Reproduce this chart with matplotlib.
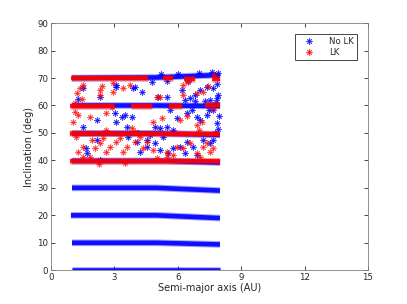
import numpy as np
import matplotlib
matplotlib.use("Agg")
import matplotlib.pyplot as plt
from matplotlib.lines import Line2D

# dense bands, read as (x, inclination) break points; NaN splits segments
nolk_band_x = [
    [1.0, 4.0, 8.0], [1.0, 5.0, 8.0], [0.95, 5.0, 8.0], [1.0, 5.0, 8.0],
    [1.0, 5.5, 8.0], [1.0, 5.0, 8.0], [1.0, 5.0, 8.0], [1.0, 5.0, 7.6, 8.0],
]
nolk_band_y = [
    [0.0, 0.0, 0.0], [10.0, 10.0, 9.4], [20.0, 20.0, 19.0], [30.0, 30.0, 29.0],
    [39.8, 39.8, 39.2], [49.8, 49.8, 49.3], [60.0, 60.0, 59.8], [70.0, 70.2, 71.0, 70.5],
]
lk_band_x = [
    [0.9, 8.0],
    [0.9, 8.0],
    [0.9, 3.0, np.nan, 3.8, 4.8, np.nan, 5.6, 6.2, np.nan, 7.3, 8.0],
    [0.95, 4.6, np.nan, 5.3, 5.8, np.nan, 6.3, 6.8, np.nan, 7.6, 8.0],
]
lk_band_y = [
    [39.8, 39.8],
    [49.8, 49.6],
    [59.8, 59.8, np.nan, 59.8, 59.8, np.nan, 59.8, 59.8, np.nan, 60.0, 60.0],
    [69.9, 69.9, np.nan, 69.9, 69.9, np.nan, 69.8, 69.8, np.nan, 69.8, 69.8],
]

# scattered points between the bands
nolk_x = [1.3, 1.5, 1.66, 1.72, 2.16, 2.16, 1.53, 3.1, 3.03, 3.1, 3.35, 3.5, 3.6,
          3.9, 4.3, 3.82, 3.66, 4.14, 4.06, 4.53, 4.69, 4.93, 5.16, 5.32, 5.48,
          5.8, 5.95, 5.64, 5.08, 5.48, 6.19, 6.35, 6.58, 6.82, 7.06, 7.37, 7.69,
          7.85, 7.93, 7.53, 6.43, 6.66, 6.9, 7.06, 7.37, 7.69, 7.85, 7.77, 7.69,
          7.53, 7.2, 6.74, 6.43, 6.1, 5.8, 5.56, 5.16, 4.93, 6.35, 6.9, 4.53,
          4.2, 2.32, 2.32, 3.98, 3.1, 7.85, 7.77,
          5.2, 6.0, 7.0, 7.6, 7.9, 4.8, 5.5, 6.5, 7.3, 7.8, 6.8, 7.5, 7.95, 7.9]
nolk_y = [62.2, 52.3, 44.4, 42.6, 47.4, 54.7, 66.2, 66.8, 57.4, 54.0, 55.9, 56.5,
          52.3, 66.2, 65.0, 55.9, 48.6, 49.9, 46.8, 47.4, 49.2, 52.3, 51.7, 48.6,
          52.3, 51.0, 55.3, 58.3, 63.2, 63.2, 65.6, 62.0, 62.6, 63.8, 65.6, 66.8,
          66.2, 62.6, 63.8, 62.0, 57.1, 58.3, 55.9, 54.7, 56.5, 58.3, 53.5, 49.9,
          47.4, 46.2, 47.4, 45.0, 46.8, 45.0, 44.4, 42.6, 43.8, 46.2, 42.6, 42.0,
          45.0, 43.2, 40.1, 63.2, 66.8, 67.4, 68.0, 71.0,
          71.5, 71.3, 71.8, 72.3, 72.0, 68.5, 68.8, 69.0, 61.5, 61.2, 61.8, 58.5,
          56.0, 51.5]
lk_x = [1.25, 1.48, 1.37, 1.53, 1.14, 1.06, 1.14, 1.85, 2.4, 2.32, 2.92, 3.43,
        2.92, 3.74, 2.32, 2.87, 2.6, 5.16, 5.0, 6.24, 6.24, 6.9, 7.2, 7.45, 5.24,
        4.85, 6.1, 6.43, 6.9, 7.14, 7.69, 3.82, 3.98, 1.3, 1.53, 1.93, 2.08,
        2.32, 2.48, 2.6, 2.8, 3.1, 3.43, 3.6, 4.0, 4.53, 4.37, 4.85, 5.48, 5.95,
        6.27, 6.58, 6.9, 7.2, 7.37, 7.53, 7.69, 7.06, 1.85, 1.3, 3.27, 5.8, 5.48,
        2.3, 1.5, 3.5, 5.0, 1.2, 2.6, 4.2, 7.0, 7.7, 6.5]
lk_y = [64.4, 62.3, 66.2, 67.4, 60.8, 54.0, 57.7, 55.7, 67.0, 65.6, 65.0, 66.2,
        68.3, 67.4, 64.0, 59.3, 57.4, 63.2, 63.0, 67.4, 64.0, 64.4, 65.0, 67.0,
        55.3, 54.0, 54.7, 56.0, 52.9, 54.0, 59.0, 51.7, 50.5, 43.2, 45.0, 47.4,
        44.4, 46.2, 48.0, 43.2, 45.0, 46.8, 43.2, 45.0, 46.8, 46.8, 44.4, 43.8,
        43.2, 45.0, 44.4, 46.2, 42.6, 45.0, 46.2, 43.2, 44.4, 41.4, 41.4, 56.5,
        48.0, 42.0, 41.4,
        38.6, 41.3, 38.9, 41.0, 48.5, 51.0, 48.6, 51.2, 71.2, 68.6]

xticks = [0, 3, 6, 9, 12, 15]
yticks = list(range(0, 91, 10))

txt = "#262626"
plt.rcParams["font.family"] = "DejaVu Sans"
asterisk = (4, 2, 0)   # '+' like arms
asterisk_x = (4, 2, 45)


def scatter_ast(ax, x, y, color, alpha):
    # MATLAB '*' = plus and cross drawn on top of each other
    for m in (asterisk, asterisk_x):
        ax.plot(x, y, ls="none", marker=m, ms=4.5, mew=0.7, color=color, alpha=alpha)


fig = plt.figure(figsize=(4.07, 3.04), dpi=100)
ax = fig.add_axes([0.125, 0.111, 0.779, 0.813])

for bx, by in zip(nolk_band_x, nolk_band_y):
    ax.plot(bx, by, color="#0000ff", lw=4.8, alpha=0.35, solid_capstyle="butt")
    ax.plot(bx, by, color="#0000ff", lw=3.3, alpha=0.9, solid_capstyle="butt")
scatter_ast(ax, nolk_x, nolk_y, "#0000ff", 0.7)

for bx, by in zip(lk_band_x, lk_band_y):
    ax.plot(bx, by, color="#ff0000", lw=4.8, alpha=0.35, solid_capstyle="butt")
    ax.plot(bx, by, color="#ff0000", lw=3.1, alpha=0.9, solid_capstyle="butt")
scatter_ast(ax, lk_x, lk_y, "#ff0000", 0.6)

ax.set_xlim(0, 15)
ax.set_ylim(0, 90)
ax.set_xticks(xticks)
ax.set_yticks(yticks)
ax.tick_params(direction="in", top=True, right=True, length=3, width=0.6,
               labelsize=6.2, colors=txt, pad=2)
for s in ax.spines.values():
    s.set_color("#7f7f7f")
    s.set_linewidth(0.6)
ax.set_xlabel("Semi-major axis (AU)", fontsize=7, color=txt, labelpad=1)
ax.set_ylabel("Inclination (deg)", fontsize=7, color=txt, labelpad=2)

handles = [
    (Line2D([], [], ls="none", marker=asterisk, ms=4.5, mew=0.7, color="#0000ff", alpha=0.7),
     Line2D([], [], ls="none", marker=asterisk_x, ms=4.5, mew=0.7, color="#0000ff", alpha=0.7)),
    (Line2D([], [], ls="none", marker=asterisk, ms=4.5, mew=0.7, color="#ff0000", alpha=0.7),
     Line2D([], [], ls="none", marker=asterisk_x, ms=4.5, mew=0.7, color="#ff0000", alpha=0.7)),
]
leg = ax.legend(handles, ["No LK", "LK"], loc="upper right",
                bbox_to_anchor=(0.978, 0.972), fontsize=6.2, fancybox=False,
                framealpha=1, edgecolor="#262626", borderpad=0.35,
                handletextpad=1.0, labelspacing=0.2, handlelength=2.6)
leg.get_frame().set_linewidth(0.6)
for t in leg.get_texts():
    t.set_color(txt)

fig.savefig("out.png", dpi=100)
